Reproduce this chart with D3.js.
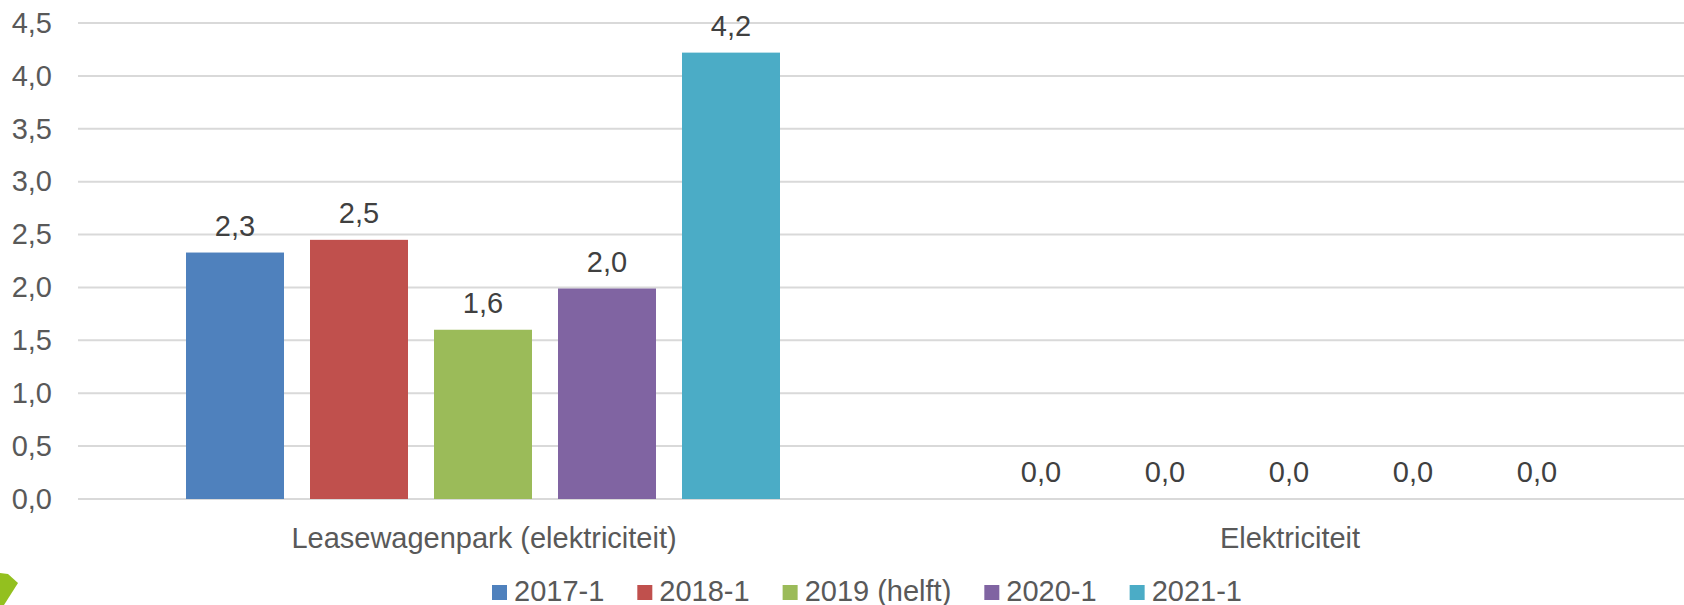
<!doctype html>
<html>
<head>
<meta charset="utf-8">
<script src="https://d3js.org/d3.v7.min.js"></script>
<style>
  body { margin: 0; background: #fff; }
  svg { display: block; font-family: "Liberation Sans", Arial, sans-serif; }
</style>
</head>
<body>
<svg id="chart" width="1684" height="605"></svg>
<script>
// data
var categories = ["Leasewagenpark (elektriciteit)", "Elektriciteit"];
var series = ["2017-1", "2018-1", "2019 (helft)", "2020-1", "2021-1"];
var leaseValues = [2.33, 2.45, 1.60, 1.99, 4.22];
var elecValues = [0, 0, 0, 0, 0];
var yTicks = [0, 0.5, 1, 1.5, 2, 2.5, 3, 3.5, 4, 4.5];
var colors = ["#4f81bd", "#c0504d", "#9bbb59", "#8064a2", "#4bacc6"];

var values = [leaseValues, elecValues];
var fontSize = 29;

var svg = d3.select("#chart");
var fmt = function(v){ return d3.format(".1f")(v).replace(".", ","); };

var yScale = d3.scaleLinear().domain([0, 4.5]).range([499, 23]);
var x0 = d3.scaleBand().domain(categories).range([80, 1692]);
var x1 = d3.scaleBand().domain(series).range([106, 700]).paddingInner(26/124);
var color = d3.scaleOrdinal().domain(series).range(colors);

// gridlines
svg.append("g").selectAll("line.grid")
  .data(yTicks)
  .enter()
  .append("line")
  .attr("class", "grid")
  .attr("x1", 78)
  .attr("x2", 1684)
  .attr("y1", d => yScale(d))
  .attr("y2", d => yScale(d))
  .attr("stroke", "#d9d9d9")
  .attr("stroke-width", 2);

// y axis labels
var yAxis = d3.axisLeft(yScale).tickValues(yTicks).tickFormat(fmt).tickSize(0).tickPadding(0);
var yG = svg.append("g").attr("transform", "translate(52,0)").call(yAxis);
yG.select(".domain").remove();
yG.selectAll("text")
  .attr("font-size", fontSize)
  .attr("font-family", "Liberation Sans, Arial, sans-serif")
  .attr("fill", "#595959");

// bars
var groups = svg.selectAll("g.cat")
  .data(categories)
  .enter()
  .append("g")
  .attr("class", "cat")
  .attr("transform", d => "translate(" + x0(d) + ",0)");

groups.selectAll("rect")
  .data((d, i) => series.map((s, j) => ({ s: s, v: values[i][j] })))
  .enter()
  .append("rect")
  .attr("x", d => x1(d.s))
  .attr("width", x1.bandwidth())
  .attr("y", d => yScale(d.v))
  .attr("height", d => yScale(0) - yScale(d.v))
  .attr("fill", d => color(d.s));

groups.selectAll("text.lbl")
  .data((d, i) => series.map((s, j) => ({ s: s, v: values[i][j] })))
  .enter()
  .append("text")
  .attr("class", "lbl")
  .attr("x", d => x1(d.s) + x1.bandwidth() / 2)
  .attr("y", d => yScale(d.v) - 17)
  .attr("text-anchor", "middle")
  .attr("font-size", fontSize)
  .attr("fill", "#404040")
  .text(d => fmt(d.v));

// category labels
svg.selectAll("text.catlbl")
  .data(categories)
  .enter()
  .append("text")
  .attr("class", "catlbl")
  .attr("x", d => x0(d) + x0.bandwidth() / 2 + 1)
  .attr("y", 548)
  .attr("text-anchor", "middle")
  .attr("font-size", fontSize)
  .attr("fill", "#595959")
  .text(d => d);

// legend
var legend = svg.append("g").attr("class", "legend");
var lx = 492;
series.forEach(function(s) {
  legend.append("rect")
    .attr("x", lx).attr("y", 585)
    .attr("width", 15).attr("height", 15)
    .attr("fill", color(s));
  var t = legend.append("text")
    .attr("x", lx + 22).attr("y", 601)
    .attr("font-size", fontSize)
    .attr("fill", "#595959")
    .text(s);
  lx += 22 + t.node().getComputedTextLength() + 33;
});

// corner decoration
svg.append("polygon")
  .attr("points", "0,573 8,574 18,583 4,605 0,605")
  .attr("fill", "#93c01f");
</script>
</body>
</html>
